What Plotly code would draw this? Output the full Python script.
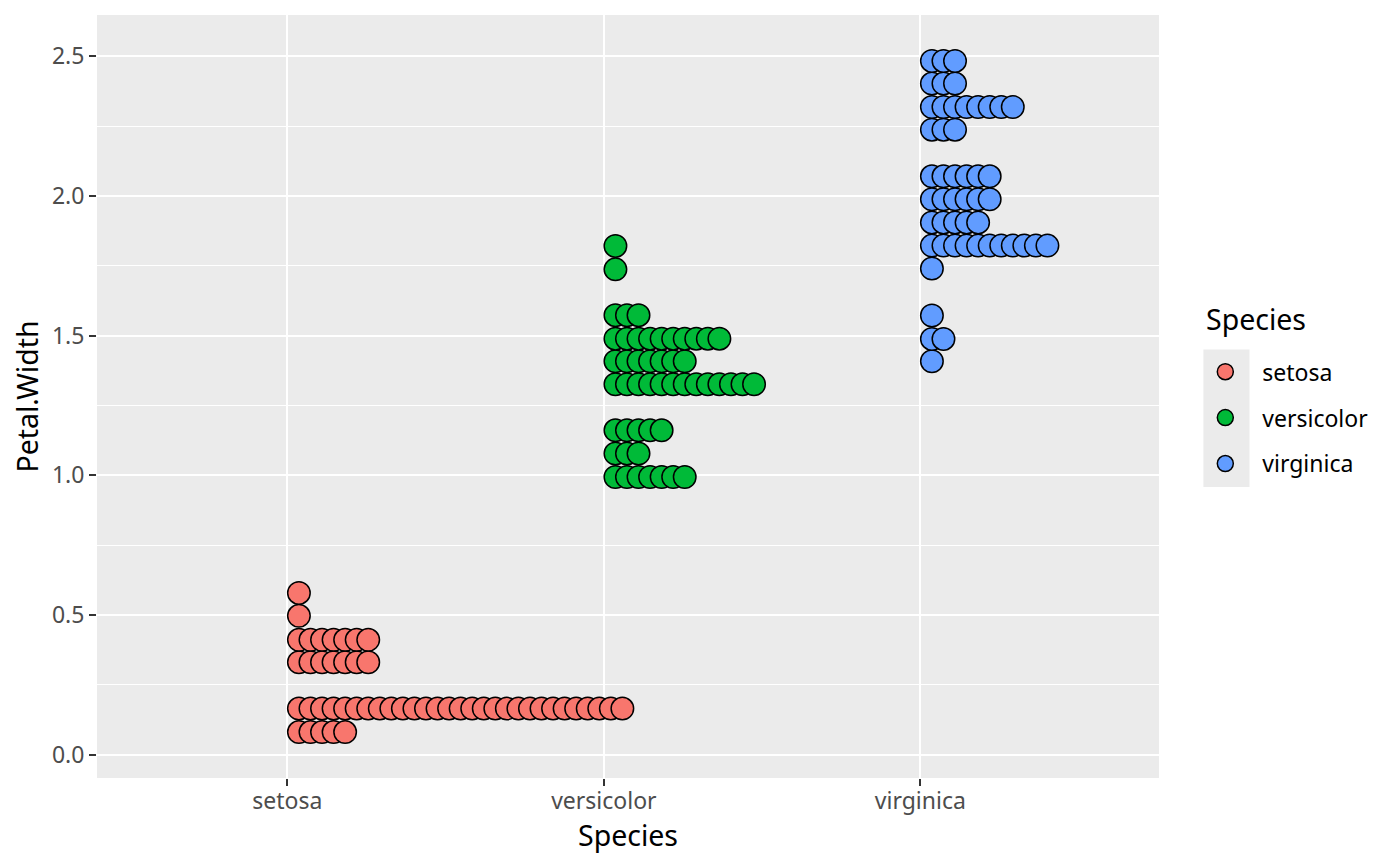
import numpy as np
import plotly.graph_objects as go

# categories and colours (ggplot default hue palette)
species = ["setosa", "versicolor", "virginica"]
colors = ["#F8766D", "#00BA38", "#619CFF"]

# dot rows (bin centre on the y axis) and how many dots sit in each row
setosa_y = [0.081, 0.165, 0.331, 0.411, 0.497, 0.579]
setosa_n = [5, 29, 7, 7, 1, 1]

versicolor_y = [0.994, 1.078, 1.161, 1.326, 1.408, 1.489, 1.573, 1.737, 1.821]
versicolor_n = [7, 3, 5, 13, 7, 10, 3, 1, 1]

virginica_y = [1.408, 1.488, 1.572, 1.740, 1.822, 1.905, 1.988, 2.070,
               2.237, 2.318, 2.402, 2.483]
virginica_n = [1, 2, 1, 1, 11, 5, 6, 6, 3, 8, 3, 3]

y_ticks = [0.0, 0.5, 1.0, 1.5, 2.0, 2.5]

rows = [(setosa_y, setosa_n), (versicolor_y, versicolor_n), (virginica_y, virginica_n)]
stack_step = 0.0365  # horizontal stacking step, x units

fig = go.Figure()
for i, (name, col) in enumerate(zip(species, colors)):
    ys, ns = rows[i]
    xs, yy = [], []
    for yv, n in zip(ys, ns):
        for k in range(n):
            xs.append(i + 1 + (k + 1) * stack_step)
            yy.append(yv)
    fig.add_trace(go.Scatter(
        x=xs, y=yy, mode="markers", name=name,
        legendgroup=name,
        marker=dict(size=22.5, color=col, line=dict(color="black", width=1.5)),
    ))

fig.update_layout(
    width=1400, height=866,
    margin=dict(l=89, r=249, t=7, b=96),
    paper_bgcolor="white",
    plot_bgcolor="#EBEBEB",
    font=dict(family="Noto Sans", color="black"),
    showlegend=True,
    legend=dict(
        font=dict(size=23, color="black"),
        x=1.0276, xanchor="left", y=0.5606, yanchor="top",
        bgcolor="rgba(0,0,0,0)",
        itemwidth=64,
        tracegroupgap=13,
    ),
    # legend title
    annotations=[dict(
        text="Species", xref="paper", yref="paper",
        x=1.042, y=0.602, xanchor="left", yanchor="middle",
        showarrow=False, font=dict(size=28.5, color="black"),
    )],
    # grey key background, as in ggplot legends
    shapes=[dict(
        type="rect", xref="paper", yref="paper", layer="below",
        x0=1.0418, x1=1.0852, y0=0.3814, y1=0.5615,
        fillcolor="#EBEBEB", line=dict(width=0),
    )],
)

fig.update_xaxes(
    range=[0.3985, 3.754],
    tickvals=[1, 2, 3], ticktext=species,
    showgrid=True, gridcolor="white", gridwidth=2.2,
    zeroline=False, showline=False,
    ticks="outside", ticklen=7, tickwidth=2, tickcolor="#333333",
    tickfont=dict(size=23, color="#4D4D4D"),
    ticklabelstandoff=-5,
    title=dict(text="Species", font=dict(size=28.5, color="black"), standoff=2),
)
fig.update_yaxes(
    range=[-0.0834, 2.6474],
    tickvals=y_ticks, tickformat=".1f",
    showgrid=True, gridcolor="white", gridwidth=2.2,
    minor=dict(dtick=0.25, showgrid=True, gridcolor="white", gridwidth=1.1),
    zeroline=False, showline=False,
    ticks="outside", ticklen=7, tickwidth=2, tickcolor="#333333",
    tickfont=dict(size=23, color="#4D4D4D"),
    title=dict(text="Petal.Width", font=dict(size=28.5, color="black"), standoff=13),
)

fig.write_html("out.html")
